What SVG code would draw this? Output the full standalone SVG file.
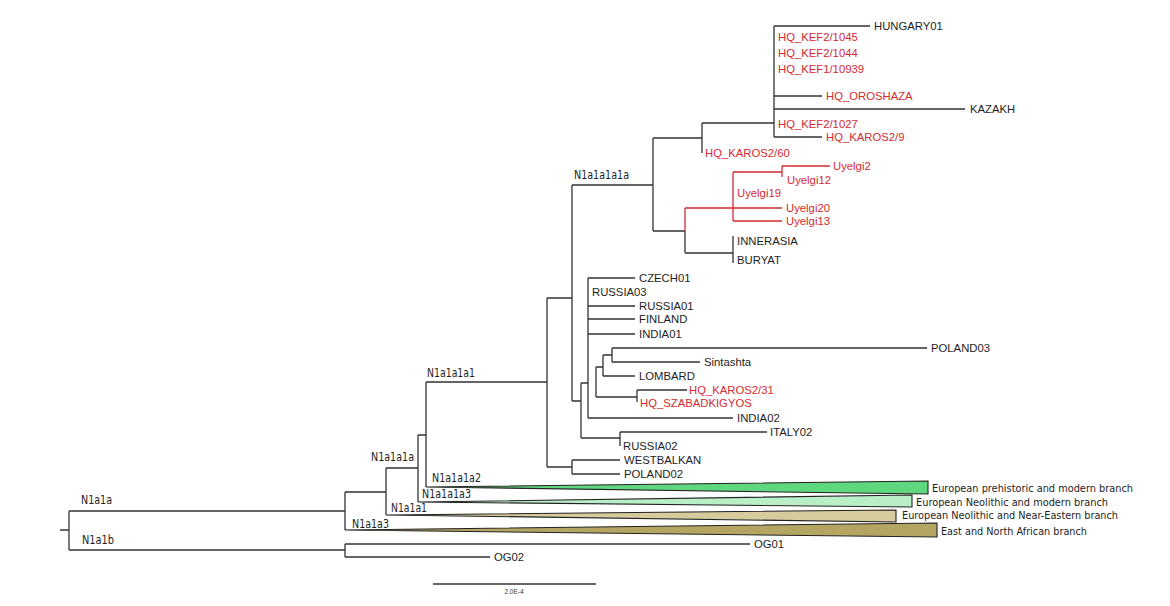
<svg xmlns="http://www.w3.org/2000/svg" width="1170" height="606" viewBox="0 0 1170 606">
<style>
.br{fill:none;stroke:#333;stroke-width:1.3}
.rb{fill:none;stroke:#d42b30;stroke-width:1.3}
.lf{font-family:"Liberation Sans",Arial,sans-serif;font-size:11.3px;fill:#1e1e1e}
.rd{fill:#d42b30}
.cl{font-family:"DejaVu Sans Condensed","DejaVu Sans",sans-serif;font-stretch:condensed;font-size:11.5px;fill:#1e1e1e}
.bl{font-family:"DejaVu Sans Condensed","DejaVu Sans",sans-serif;font-stretch:condensed;font-size:10.2px;fill:#1e1e1e}
.tri{stroke:#222;stroke-width:1.1}
.sc{font-family:"Liberation Sans",Arial,sans-serif;font-size:6.5px;fill:#333}
</style>
<rect width="1170" height="606" fill="#fff"/>
<g id="connectors">
<path class="br" d="M60,530H69M69,511V550M69,511H345M69,550H345M345,492V530M345,544V557M345,544H750M345,557H490M345,492H386M386,468V515M386,468H418M418,435V502M418,435H426M426,382V487M426,382H547M547,298V467M547,467H572M572,460V474M572,460H620M572,474H620M547,298H572M572,185V401M572,185H653M653,138V231M653,138H702M702,123V153M702,123H774M774,26V137M774,26H870M774,96H822M774,109H965M774,137H822M653,231H685M685,231V253M685,253H733M733,236V263"/>
<path class="rb" d="M685,208V231M685,208H782M733,172V221M733,172H782M782,166V177M782,166H830M733,221H782"/>
<path class="br" d="M572,401H581M581,383V438M581,438H620M620,432V446M620,432H767M581,383H588M588,278V418M588,278H635M588,306H635M588,319H635M588,334H635M588,418H733M596,367V397M596,367H603M603,355V376M603,355H612M612,348V362M612,348H927M612,362H700M603,376H635M596,397H637M637,390V402M637,390H687"/>
</g>
<g id="collapsed">
<g id="c-prehist"><polygon class="tri" points="426,487 928,481 928,494" fill="#5fd77f"/><text class="bl" x="932" y="492" textLength="201" lengthAdjust="spacingAndGlyphs">European prehistoric and modern branch</text></g>
<g id="c-neomod"><polygon class="tri" points="418,502 912,495 912,507" fill="#b8efc6"/><text class="bl" x="916" y="506" textLength="192" lengthAdjust="spacingAndGlyphs">European Neolithic and modern branch</text></g>
<g id="c-neone"><polygon class="tri" points="386,515 896,510 896,522" fill="#d5cb9c"/><text class="bl" x="902" y="518.5" textLength="216" lengthAdjust="spacingAndGlyphs">European Neolithic and Near-Eastern branch</text></g>
<g id="c-africa"><polygon class="tri" points="345,530 937,523 937,537" fill="#b5a563"/><text class="bl" x="941" y="535" textLength="146" lengthAdjust="spacingAndGlyphs">East and North African branch</text></g>
</g>
<g id="clades">
<text id="n-N1a1a" class="cl" x="81" y="504" textLength="31" lengthAdjust="spacingAndGlyphs">N1a1a</text>
<text id="n-N1a1b" class="cl" x="82" y="544" textLength="32" lengthAdjust="spacingAndGlyphs">N1a1b</text>
<text id="n-N1a1a1a" class="cl" x="371" y="461" textLength="43" lengthAdjust="spacingAndGlyphs">N1a1a1a</text>
<text id="n-N1a1a1a2" class="cl" x="432" y="482" textLength="49" lengthAdjust="spacingAndGlyphs">N1a1a1a2</text>
<text id="n-N1a1a1a3" class="cl" x="422" y="498" textLength="49" lengthAdjust="spacingAndGlyphs">N1a1a1a3</text>
<text id="n-N1a1a1" class="cl" x="391" y="512" textLength="36" lengthAdjust="spacingAndGlyphs">N1a1a1</text>
<text id="n-N1a1a3" class="cl" x="352" y="528" textLength="37" lengthAdjust="spacingAndGlyphs">N1a1a3</text>
<text id="n-N1a1a1a1" class="cl" x="427" y="377" textLength="48" lengthAdjust="spacingAndGlyphs">N1a1a1a1</text>
<text id="n-N1a1a1a1a" class="cl" x="574" y="179" textLength="55" lengthAdjust="spacingAndGlyphs">N1a1a1a1a</text>
</g>
<g id="leaves">
<g id="l-hungary01"><text class="lf" x="874" y="30">HUNGARY01</text></g>
<g id="l-kef2-1045"><text class="lf rd" x="778" y="41">HQ_KEF2/1045</text></g>
<g id="l-kef2-1044"><text class="lf rd" x="778" y="57">HQ_KEF2/1044</text></g>
<g id="l-kef1-10939"><text class="lf rd" x="778" y="73">HQ_KEF1/10939</text></g>
<g id="l-oroshaza"><text class="lf rd" x="826" y="100">HQ_OROSHAZA</text></g>
<g id="l-kazakh"><text class="lf" x="970" y="113">KAZAKH</text></g>
<g id="l-kef2-1027"><text class="lf rd" x="778" y="128">HQ_KEF2/1027</text></g>
<g id="l-karos2-9"><text class="lf rd" x="826" y="141">HQ_KAROS2/9</text></g>
<g id="l-karos2-60"><text class="lf rd" x="705" y="157">HQ_KAROS2/60</text></g>
<g id="l-uyelgi2"><text class="lf rd" x="833" y="170">Uyelgi2</text></g>
<g id="l-uyelgi12"><text class="lf rd" x="787" y="184">Uyelgi12</text></g>
<g id="l-uyelgi19"><text class="lf rd" x="737" y="197">Uyelgi19</text></g>
<g id="l-uyelgi20"><text class="lf rd" x="786" y="212">Uyelgi20</text></g>
<g id="l-uyelgi13"><text class="lf rd" x="786" y="225">Uyelgi13</text></g>
<g id="l-innerasia"><text class="lf" x="737" y="245">INNERASIA</text></g>
<g id="l-buryat"><text class="lf" x="737" y="264">BURYAT</text></g>
<g id="l-czech01"><text class="lf" x="639" y="282">CZECH01</text></g>
<g id="l-russia03"><text class="lf" x="592" y="296">RUSSIA03</text></g>
<g id="l-russia01"><text class="lf" x="639" y="310">RUSSIA01</text></g>
<g id="l-finland"><text class="lf" x="639" y="323">FINLAND</text></g>
<g id="l-india01"><text class="lf" x="639" y="338">INDIA01</text></g>
<g id="l-poland03"><text class="lf" x="931" y="352">POLAND03</text></g>
<g id="l-sintashta"><text class="lf" x="704" y="366">Sintashta</text></g>
<g id="l-lombard"><text class="lf" x="639" y="380">LOMBARD</text></g>
<g id="l-karos2-31"><text class="lf rd" x="689" y="394">HQ_KAROS2/31</text></g>
<g id="l-szabadkigyos"><text class="lf rd" x="640" y="407">HQ_SZABADKIGYOS</text></g>
<g id="l-india02"><text class="lf" x="737" y="422">INDIA02</text></g>
<g id="l-italy02"><text class="lf" x="770" y="436">ITALY02</text></g>
<g id="l-russia02"><text class="lf" x="623" y="450">RUSSIA02</text></g>
<g id="l-westbalkan"><text class="lf" x="624" y="464">WESTBALKAN</text></g>
<g id="l-poland02"><text class="lf" x="624" y="478">POLAND02</text></g>
<g id="l-og01"><text class="lf" x="754" y="548">OG01</text></g>
<g id="l-og02"><text class="lf" x="494" y="561">OG02</text></g>
</g>
<g id="scale">
<path class="br" d="M433,584H596"/>
<text class="sc" x="514" y="594" text-anchor="middle">2.0E-4</text>
</g>
</svg>
